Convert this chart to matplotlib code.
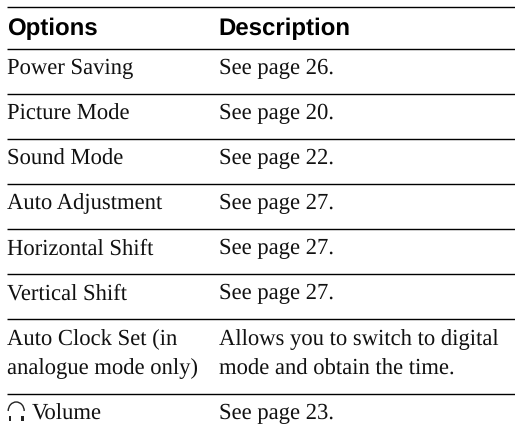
import matplotlib
matplotlib.use("Agg")
import matplotlib.pyplot as plt
from matplotlib.patches import Arc, Rectangle

plt.rcParams["text.hinting"] = "no_hinting"

# table contents
headers = ["Options", "Description"]
options = ["Power Saving", "Picture Mode", "Sound Mode", "Auto Adjustment",
           "Horizontal Shift", "Vertical Shift",
           "Auto Clock Set (in\nanalogue mode only)", "Volume"]
descriptions = ["See page 26.", "See page 20.", "See page 22.", "See page 27.",
                "See page 27.", "See page 27.",
                "Allows you to switch to digital\nmode and obtain the time.", "See page 23."]

# text baselines and rules, in pixels
header_y = 35
row_y = [74.5, 119.5, 164.5, 209.5, 254.5, 299.5, 374.5, 419.5]
rule_y = [7.3, 49.3, 94.3, 139.3, 184.3, 229.3, 274.3, 319.3, 394.3]

fig = plt.figure(figsize=(5.15, 4.37), dpi=100)
ax = fig.add_axes([0, 0, 1, 1])
ax.set_xlim(0, 515)
ax.set_ylim(437, 0)
ax.axis("off")

col_x = [7.3, 219]
ax.text(col_x[0], header_y, headers[0], fontsize=17.3, fontweight="bold",
        family="Liberation Sans", va="baseline")
ax.text(col_x[1] - 0.7, header_y, headers[1], fontsize=17.3, fontweight="bold",
        family="Liberation Sans", va="baseline")

for i in range(len(options)):
    x = col_x[0]
    if options[i] == "Volume":
        x = 32
    ax.text(x, row_y[i], options[i], fontsize=16.3, family="Liberation Serif",
            va="baseline", linespacing=1.56, color="#111111")
    ax.text(col_x[1], row_y[i], descriptions[i], fontsize=16.3, family="Liberation Serif",
            va="baseline", linespacing=1.56, color="#111111")

for y in rule_y:
    ax.plot([7.3, 515], [y, y], color="black", lw=1.0, solid_capstyle="butt")

# headphone icon in front of Volume
ax.add_patch(Arc((16.2, 411), 16, 18, theta1=180, theta2=360, color="#222222", lw=1.0))
ax.add_patch(Rectangle((8.6, 416), 2.4, 5, color="#222222", lw=0))
ax.add_patch(Rectangle((21.4, 416), 2.4, 5, color="#222222", lw=0))

fig.savefig("out.png", dpi=100)
